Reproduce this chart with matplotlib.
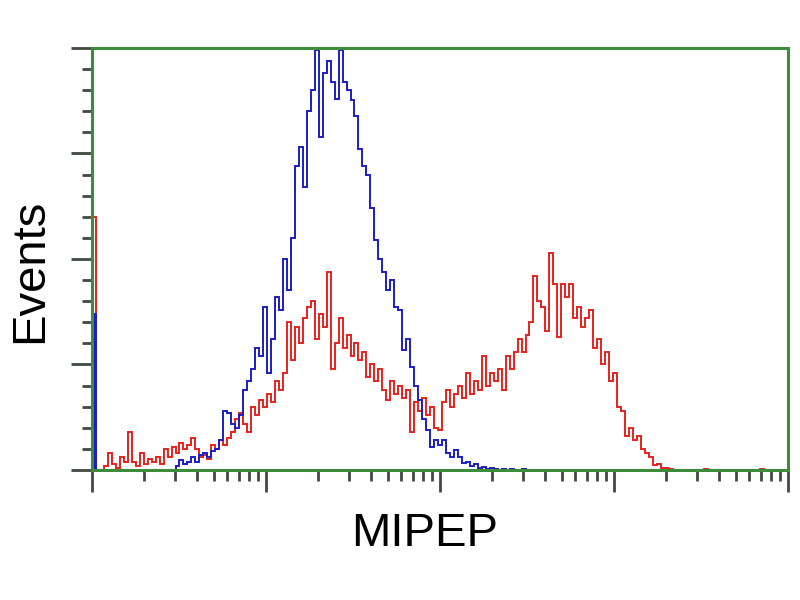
# MIPEP flow cytometry histogram

import numpy as np
import matplotlib
matplotlib.use("Agg")
import matplotlib.pyplot as plt
from matplotlib.ticker import MultipleLocator, LogLocator, NullFormatter

# channel bins on a 4-decade log scale
n_bins = 175
edges = np.logspace(0, 4, n_bins + 1)

# red histogram (stained), % of full scale
red = [60, 0, 0, 1, 4, 1.5, 0.5, 3, 2, 9,
       2, 1, 4, 1.5, 2.5, 2, 3, 1.5, 5, 3,
       5.5, 4, 6.5, 5, 6, 7.5, 5, 3, 3.5, 2.5,
       6, 5, 7, 6, 7.5, 9, 12, 13.5, 11, 9,
       15, 13, 16.5, 15, 18, 16, 21, 19, 23, 35,
       26, 34, 30, 36, 38.6, 40, 31, 37, 34, 47,
       24, 30, 36, 29, 32, 27, 30, 26, 28, 22,
       25, 21, 24, 19, 16.6, 21, 18, 20, 17, 19,
       9, 16, 14, 17, 13, 15, 10, 9.5, 16, 19,
       15, 18, 20, 17, 23, 18, 21, 19, 27, 20,
       23, 21, 24, 19, 27, 24, 28, 31, 28, 32,
       35, 46, 40, 38.6, 33, 51.4, 44, 31.5, 44, 41,
       44, 36, 38.6, 34, 36, 38, 29, 31, 25, 28,
       21, 23, 15, 14, 8, 10, 7, 8, 5, 4,
       3, 1.2, 1.5, 0.5, 0.5, 0.3, 0, 0, 0, 0,
       0, 0, 0, 0, 0.3, 0, 0, 0, 0, 0,
       0, 0, 0, 0, 0, 0, 0, 0, 0.3, 0,
       0, 0, 0, 0, 0]

# blue histogram (isotype control)
blue = [37, 0, 0, 0, 0, 0, 0, 0, 0, 0,
        0, 0, 0, 0, 0, 0, 0, 0, 0, 0,
        0, 1, 2.4, 1.5, 2, 3, 2, 3.5, 4, 3,
        4.5, 5, 7, 14, 13.5, 11, 10, 13, 19, 21,
        24, 29, 27, 38.6, 23, 31, 41, 38, 50, 42.6,
        55, 72, 76.5, 67, 85, 90, 99.5, 79, 94, 97,
        92, 88, 99.5, 92, 90, 87.7, 84, 76, 72, 70,
        62, 54.5, 50, 47, 42.6, 45, 38.6, 38, 28.4, 31,
        24.4, 20, 16.6, 12, 9.5, 5.5, 7, 6, 7, 4,
        3, 4.7, 3, 1.6, 2, 1, 1.5, 0.5, 0.8, 0.3,
        0.5, 0.3, 0, 0.3, 0, 0.3, 0, 0, 0.3, 0,
        0, 0, 0, 0, 0, 0, 0, 0, 0, 0,
        0, 0, 0, 0, 0, 0, 0, 0, 0, 0,
        0, 0, 0, 0, 0, 0, 0, 0, 0, 0,
        0, 0, 0, 0, 0, 0, 0, 0, 0, 0,
        0, 0, 0, 0, 0, 0, 0, 0, 0, 0,
        0, 0, 0, 0, 0, 0, 0, 0, 0, 0,
        0, 0, 0, 0, 0]

x_label = "MIPEP"
y_label = "Events"

plt.rcParams['font.family'] = ['Liberation Sans', 'DejaVu Sans']

red_c = '#e8201c'
blue_c = '#1c1cc8'

fig = plt.figure(figsize=(8, 6), dpi=100)
ax = fig.add_axes([0.115, 0.2167, 0.87, 0.7033])

ax.stairs(red, edges, color=red_c, linewidth=1.4, baseline=None)
ax.stairs(blue, edges, color=blue_c, linewidth=1.4, baseline=None)
# first channel of the control piles up on the axis: solid bar
ax.stairs(blue[:1], edges[:2], color=blue_c, fill=True)

ax.set_xscale('log')
ax.set_xlim(1, 1e4)
ax.set_ylim(0, 100)

# green frame
for s in ax.spines.values():
    s.set_color('#3c8c3c')
    s.set_linewidth(2.2)

# ticks, no labels
ax.yaxis.set_major_locator(MultipleLocator(25))
ax.yaxis.set_minor_locator(MultipleLocator(5))
ax.xaxis.set_major_locator(LogLocator(base=10, numticks=10))
ax.xaxis.set_minor_locator(LogLocator(base=10, subs=np.arange(2, 10), numticks=20))
ax.xaxis.set_major_formatter(NullFormatter())
ax.xaxis.set_minor_formatter(NullFormatter())
ax.yaxis.set_major_formatter(NullFormatter())
ax.tick_params(axis='y', which='major', direction='out', length=15, width=2, color='#404a40')
ax.tick_params(axis='y', which='minor', direction='out', length=7, width=2, color='#404a40')
ax.tick_params(axis='x', which='major', direction='out', length=16, width=2, color='#404a40')
ax.tick_params(axis='x', which='minor', direction='out', length=8, width=2, color='#404a40')

fig.text(0.531, 0.11, x_label, fontsize=34, ha='center', va='center')
fig.text(0.0375, 0.548, y_label, fontsize=34, ha='center', va='center', rotation=90)

plt.savefig("out.png")
